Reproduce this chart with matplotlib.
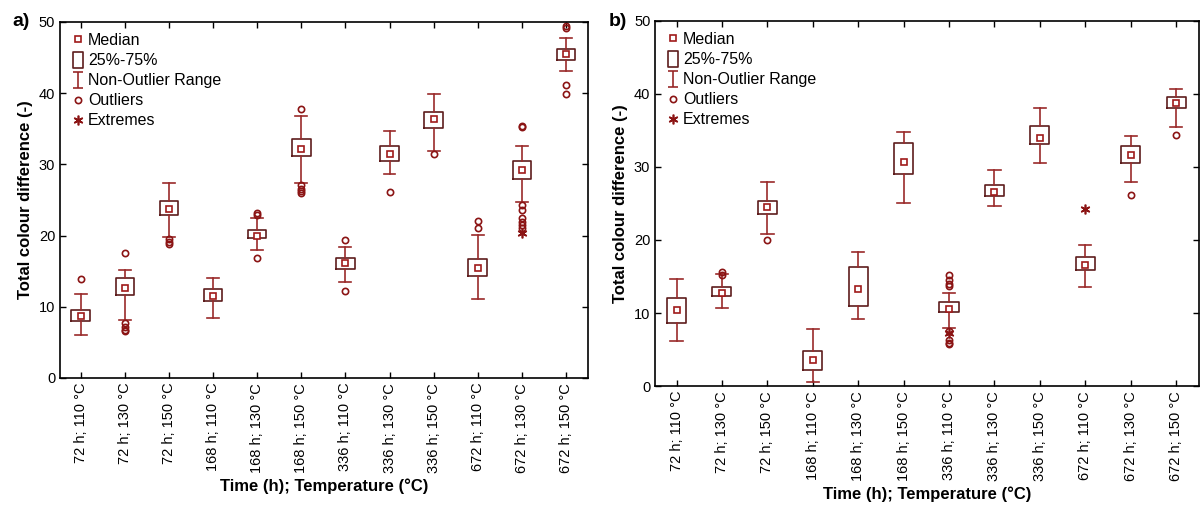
import numpy as np
import matplotlib
matplotlib.use("Agg")
import matplotlib.pyplot as plt
from matplotlib.path import Path
from matplotlib.lines import Line2D

plt.rcParams['font.family'] = ['Liberation Sans', 'DejaVu Sans']

labels = ['72 h; 110 °C', '72 h; 130 °C', '72 h; 150 °C',
          '168 h; 110 °C', '168 h; 130 °C', '168 h; 150 °C',
          '336 h; 110 °C', '336 h; 130 °C', '336 h; 150 °C',
          '672 h; 110 °C', '672 h; 130 °C', '672 h; 150 °C']

# panel a)
a_whislo = [6.1, 8.1, 19.8, 8.4, 18.0, 27.4, 13.5, 28.6, 31.9, 11.1, 24.7, 43.1]
a_q1 = [8.0, 11.6, 22.9, 10.8, 19.6, 31.1, 15.3, 30.4, 35.1, 14.3, 28.0, 44.6]
a_med = [8.7, 12.7, 23.7, 11.5, 20.0, 32.2, 16.1, 31.5, 36.4, 15.4, 29.2, 45.5]
a_q3 = [9.6, 14.0, 24.8, 12.5, 20.8, 33.6, 16.8, 32.6, 37.4, 16.7, 30.5, 46.2]
a_whishi = [11.8, 15.2, 27.4, 14.0, 22.5, 36.8, 18.4, 34.7, 39.9, 20.1, 32.5, 47.7]
a_out = [[13.9], [17.5, 7.7, 7.2, 6.8, 6.6], [19.5, 19.1, 18.8], [],
         [23.1, 22.9, 16.9], [37.8, 27.1, 26.6, 26.3, 25.9], [19.4, 12.2],
         [26.1], [31.4], [22.1, 21.0],
         [35.4, 35.2, 24.3, 23.6, 22.4, 21.9, 21.5, 21.0], [49.4, 49.1, 41.1, 39.8]]
a_ext = [[], [], [], [], [], [], [], [], [], [], [20.3], []]

# panel b)
b_whislo = [6.2, 10.7, 20.8, 0.55, 9.15, 25.0, 8.0, 24.7, 30.5, 13.5, 28.0, 35.5]
b_q1 = [8.7, 12.3, 23.5, 2.15, 11.0, 29.0, 10.1, 26.0, 33.2, 15.9, 30.6, 38.0]
b_med = [10.4, 12.8, 24.5, 3.6, 13.3, 30.7, 10.6, 26.6, 33.9, 16.6, 31.6, 38.8]
b_q3 = [12.0, 13.6, 25.4, 4.85, 16.3, 33.3, 11.5, 27.5, 35.6, 17.7, 32.8, 39.6]
b_whishi = [14.7, 15.3, 28.0, 7.8, 18.4, 34.8, 12.8, 29.6, 38.0, 19.3, 34.2, 40.6]
b_out = [[], [15.55, 15.2], [20.0], [], [], [],
         [15.2, 14.5, 14.0, 13.7, 7.6, 6.3, 5.9, 5.7], [], [], [], [26.1], [34.4]]
b_ext = [[], [], [], [], [], [], [7.3], [], [], [24.2], [], []]

c_whisk = '#9a2a2a'
c_box = '#5e1c1c'
c_med = '#a01a1a'
c_pt = '#8b1414'

box_path = Path([(-0.32, -0.5), (0.32, -0.5), (0.32, 0.5), (-0.32, 0.5), (-0.32, -0.5)],
                [Path.MOVETO, Path.LINETO, Path.LINETO, Path.LINETO, Path.CLOSEPOLY])
whisk_path = Path([(-0.3, 0.5), (0.3, 0.5), (0, 0.5), (0, -0.5), (-0.3, -0.5), (0.3, -0.5)],
                  [Path.MOVETO, Path.LINETO, Path.MOVETO, Path.LINETO, Path.MOVETO, Path.LINETO])


def panel(ax, whislo, q1, med, q3, whishi, outl, ext):
    pos = np.arange(len(labels))
    stats = []
    for i in range(len(labels)):
        stats.append(dict(whislo=whislo[i], q1=q1[i], med=med[i], q3=q3[i],
                          whishi=whishi[i], fliers=outl[i]))
    ax.bxp(stats, positions=pos, widths=0.42, showcaps=True, showfliers=True,
           boxprops=dict(color=c_box, lw=1.2),
           whiskerprops=dict(color=c_whisk, lw=1.2),
           capprops=dict(color=c_whisk, lw=1.2),
           medianprops=dict(visible=False),
           capwidths=0.27,
           flierprops=dict(marker='o', mfc='none', mec=c_pt, ms=4.5, mew=1.2))
    ax.plot(pos, med, ls='none', marker='s', mfc='white', mec=c_med, ms=5, mew=1.2)
    for i, e in enumerate(ext):
        if e:
            ax.plot([pos[i]] * len(e), e, ls='none', marker=(6, 2, 0), color=c_pt,
                    ms=7, mew=1.2)
    ax.set_xlim(-0.47, 11.5)
    ax.set_ylim(0, 50)
    ax.set_yticks([0, 10, 20, 30, 40, 50])
    ax.set_xticks(pos)
    ax.set_xticklabels(labels, rotation=90, fontsize=10.5)
    ax.tick_params(direction='in', top=True, right=True, length=4, width=1,
                   labelsize=10.5)
    for s in ax.spines.values():
        s.set_linewidth(1.2)
    ax.set_xlabel('Time (h); Temperature (°C)', fontsize=12, fontweight='bold')
    ax.set_ylabel('Total colour difference (-)', fontsize=12, fontweight='bold')
    handles = [
        Line2D([], [], ls='none', marker='s', mfc='none', mec=c_med, ms=5, mew=1.2),
        Line2D([], [], ls='none', marker=box_path, mfc='none', mec=c_box, ms=11.5, mew=1.2),
        Line2D([], [], ls='none', marker=whisk_path, mfc='none', mec=c_whisk, ms=11.5, mew=1.2),
        Line2D([], [], ls='none', marker='o', mfc='none', mec=c_pt, ms=4.5, mew=1.2),
        Line2D([], [], ls='none', marker=(6, 2, 0), color=c_pt, ms=7, mew=1.2),
    ]
    ax.legend(handles, ['Median', '25%-75%', 'Non-Outlier Range', 'Outliers', 'Extremes'],
              loc='upper left', frameon=False, fontsize=11.5, handlelength=0.8,
              handletextpad=0.25, labelspacing=0.32, borderaxespad=0.4,
              borderpad=0.3)


fig = plt.figure(figsize=(12, 5.08), dpi=100)
ax1 = fig.add_axes([0.05, 0.256, 0.44, 0.701])
ax2 = fig.add_axes([0.546, 0.240, 0.453, 0.719])

panel(ax1, a_whislo, a_q1, a_med, a_q3, a_whishi, a_out, a_ext)
panel(ax2, b_whislo, b_q1, b_med, b_q3, b_whishi, b_out, b_ext)

fig.text(0.01, 0.957, 'a)', fontsize=14, fontweight='bold', va='center')
fig.text(0.507, 0.957, 'b)', fontsize=14, fontweight='bold', va='center')

fig.savefig('out.png', dpi=100)
